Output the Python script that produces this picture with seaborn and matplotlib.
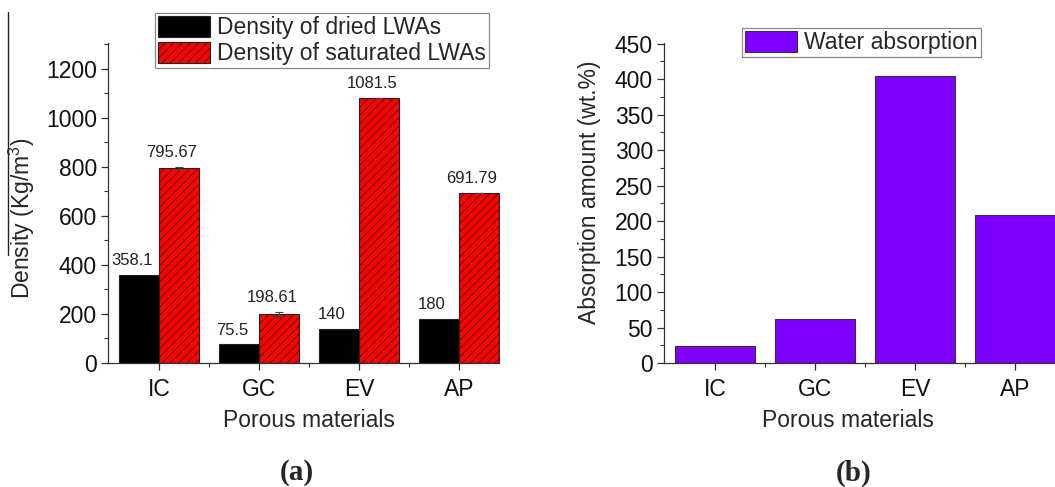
import pandas as pd
import seaborn as sns
import matplotlib.pyplot as plt
from matplotlib.patches import Rectangle
from matplotlib.lines import Line2D
from matplotlib.ticker import MultipleLocator, FixedLocator

# data
materials = ["IC", "GC", "EV", "AP"]
dried = [358.1, 75.5, 140, 180]
saturated = [795.67, 198.61, 1081.5, 691.79]
saturated_err = [3, 10, 0, 0]
dried_labels = ["358.1", "75.5", "140", "180"]
saturated_labels = ["795.67", "198.61", "1081.5", "691.79"]
absorption = [24, 61.5, 404, 209]

sns.set_style("ticks")
plt.rcParams['font.family'] = ['Liberation Sans', 'DejaVu Sans']
plt.rcParams['mathtext.fontset'] = 'custom'
plt.rcParams['mathtext.rm'] = 'Liberation Sans'
plt.rcParams['mathtext.it'] = 'Liberation Sans:italic'
plt.rcParams['hatch.linewidth'] = 0.55
plt.rcParams['axes.edgecolor'] = '#333333'
plt.rcParams['xtick.color'] = '#333333'
plt.rcParams['ytick.color'] = '#333333'
plt.rcParams['xtick.labelcolor'] = '#111111'
plt.rcParams['ytick.labelcolor'] = '#111111'

W, H = 1055, 487
FS = 16.5
fig = plt.figure(figsize=(W / 100, H / 100), dpi=100)


def fx(px):
    return px / W


def fy(px):
    return 1 - px / H


def style_axis(ax, major, minor):
    sns.despine(ax=ax)
    ax.yaxis.set_major_locator(MultipleLocator(major))
    ax.yaxis.set_minor_locator(MultipleLocator(minor))
    ax.xaxis.set_minor_locator(FixedLocator([0.5, 1.5, 2.5, 3.5]))
    ax.tick_params(which='major', length=5, width=0.9, labelsize=FS, pad=3)
    ax.tick_params(which='minor', length=3, width=0.8)
    ax.tick_params(axis='x', which='major', pad=6)
    for s in ax.spines.values():
        s.set_linewidth(0.9)


# ---- (a) densities ----
ax1 = fig.add_axes([fx(108), fy(363), fx(402), (363 - 43) / H])
df = pd.DataFrame({
    'Material': materials * 2,
    'Density': dried + saturated,
    'Type': ['Density of dried LWAs'] * 4 + ['Density of saturated LWAs'] * 4,
})
sns.barplot(data=df, x='Material', y='Density', hue='Type',
            palette=['black', '#ff0000'], saturation=1, width=0.8,
            errorbar=None, edgecolor='#222222', linewidth=0.8,
            legend=False, ax=ax1)
bars_d, bars_s = ax1.containers[0], ax1.containers[1]
for p in bars_s:
    p.set_hatch('////')

xs_s = [p.get_x() + p.get_width() / 2 for p in bars_s]
xs_d = [p.get_x() + p.get_width() / 2 for p in bars_d]
ax1.errorbar(xs_s, saturated, yerr=saturated_err, fmt='none',
             ecolor='#444444', elinewidth=0.8, capsize=3, capthick=0.8)

for x, v, t in zip(xs_d, dried, dried_labels):
    ax1.annotate(t, (x, v), xytext=(-5, 5), textcoords='offset points',
                 ha='center', va='bottom', fontsize=12, color='#222222')
for x, v, e, t in zip(xs_s, saturated, saturated_err, saturated_labels):
    ax1.annotate(t, (x, v + e), xytext=(-5, 5), textcoords='offset points',
                 ha='center', va='bottom', fontsize=12, color='#222222')

ax1.set_xlim(-0.51, 3.51)
ax1.set_ylim(0, 1305)
style_axis(ax1, 200, 100)
ax1.set_xlabel('Porous materials', fontsize=FS)
ax1.set_ylabel('Density (Kg/m$^3$)', fontsize=FS)
ax1.xaxis.set_label_coords(fx(309), fy(409), transform=fig.transFigure)
ax1.yaxis.set_label_coords(fx(37), fy(218), transform=fig.transFigure)

leg_kw = dict(loc='upper left', bbox_transform=fig.transFigure, fontsize=FS,
              frameon=True, fancybox=False, framealpha=1, edgecolor='#888888',
              handlelength=2.3, handleheight=1.05, handletextpad=0.3,
              labelspacing=0.12, borderpad=0.12, borderaxespad=0)
leg1 = ax1.legend(handles=[bars_d[0], bars_s[0]],
                  labels=['Density of dried LWAs', 'Density of saturated LWAs'],
                  bbox_to_anchor=(fx(155), fy(13)), **leg_kw)
leg1.get_frame().set_linewidth(0.9)

# ---- (b) water absorption ----
ax2 = fig.add_axes([fx(664), fy(363), fx(W - 664), (363 - 43) / H])
sns.barplot(x=materials, y=absorption, color='#8000ff', saturation=1,
            width=0.8, errorbar=None, edgecolor='#333333', linewidth=0.8,
            label='Water absorption', ax=ax2)
ax2.set_xlim(-0.51, 3.40)
ax2.set_ylim(0, 451)
style_axis(ax2, 50, 25)
ax2.set_xlabel('Porous materials', fontsize=FS)
ax2.set_ylabel('Absorption amount (wt.%)', fontsize=FS)
ax2.xaxis.set_label_coords(fx(848), fy(409), transform=fig.transFigure)
ax2.yaxis.set_label_coords(fx(601), fy(192), transform=fig.transFigure)
leg2 = ax2.legend(bbox_to_anchor=(fx(742), fy(28)), **leg_kw)
leg2.get_frame().set_linewidth(0.9)

# cropped panel edge and stray frame line
fig.add_artist(Rectangle((fx(500), 0), fx(40), 1, transform=fig.transFigure,
                         facecolor='white', edgecolor='none', zorder=10))
fig.add_artist(Line2D([fx(8), fx(8)], [fy(12), fy(255)],
                      transform=fig.transFigure, color='#222222', lw=1))

fig.text(fx(297), fy(473), '(a)', ha='center', va='center', fontsize=21,
         fontweight='bold', family='Liberation Serif')
fig.text(fx(854), fy(473), '(b)', ha='center', va='center', fontsize=21,
         fontweight='bold', family='Liberation Serif')

fig.savefig('out.png', dpi=100)
